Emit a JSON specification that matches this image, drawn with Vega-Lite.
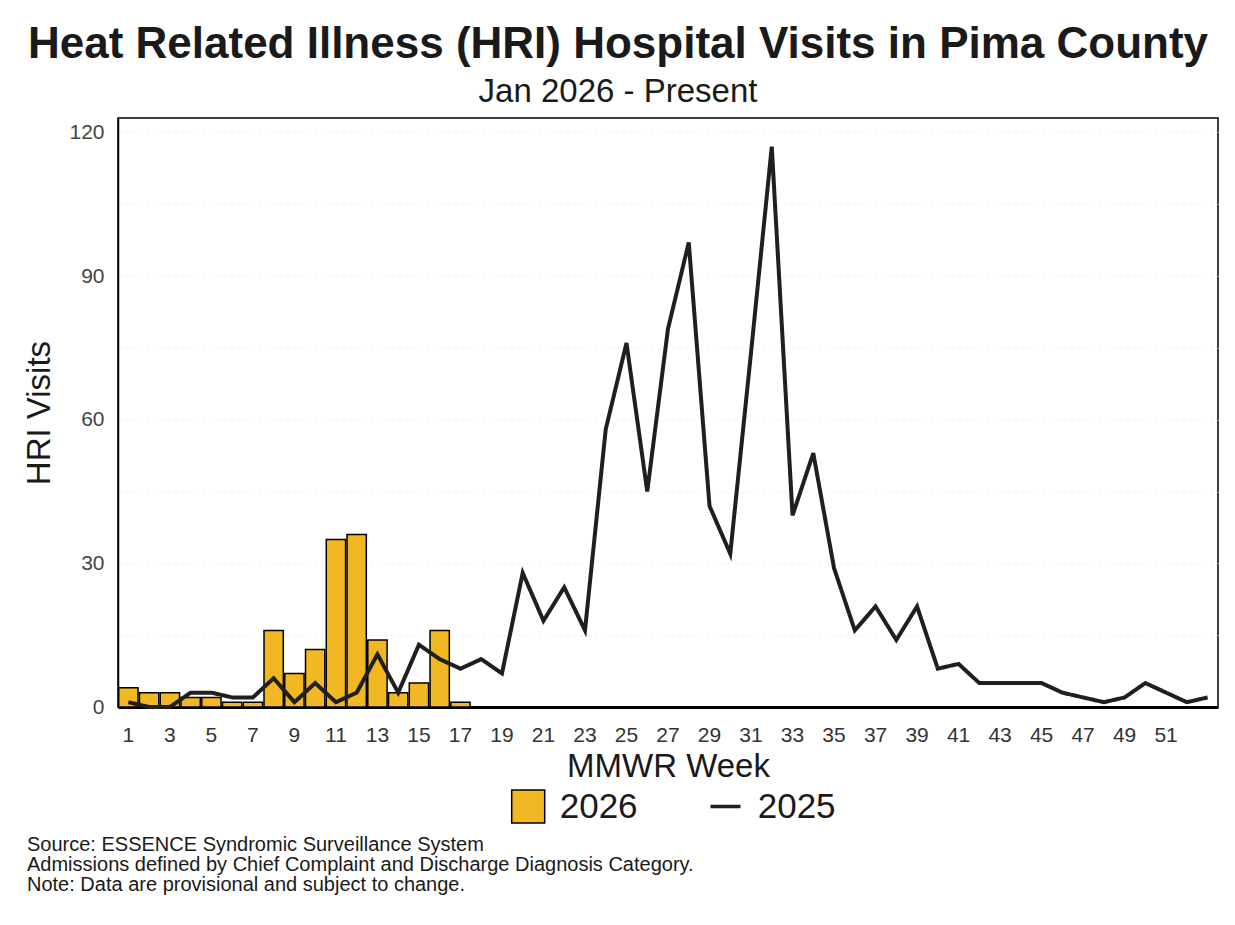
{
  "$schema": "https://vega.github.io/schema/vega-lite/v6.json",
  "width": 1100,
  "height": 589,
  "autosize": {"type": "none"},
  "padding": {"left": 118, "top": 118, "right": 17, "bottom": 218},
  "background": "white",
  "title": {
    "text": "Heat Related Illness (HRI) Hospital Visits in Pima County",
    "subtitle": "Jan 2026 - Present",
    "anchor": "middle",
    "frame": "group",
    "dx": -50,
    "offset": 9,
    "font": "Liberation Sans",
    "fontSize": 44,
    "fontWeight": "bold",
    "color": "#1a1a1a",
    "subtitleFont": "Liberation Sans",
    "subtitleFontSize": 33,
    "subtitleColor": "#1a1a1a",
    "subtitlePadding": 9
  },
  "config": {
    "view": {"stroke": "black", "strokeWidth": 1.5},
    "font": "Liberation Sans"
  },
  "data": {
    "values": [
      {"week": 1, "v2026": 4, "v2025": 1},
      {"week": 2, "v2026": 3, "v2025": 0},
      {"week": 3, "v2026": 3, "v2025": 0},
      {"week": 4, "v2026": 2, "v2025": 3},
      {"week": 5, "v2026": 2, "v2025": 3},
      {"week": 6, "v2026": 1, "v2025": 2},
      {"week": 7, "v2026": 1, "v2025": 2},
      {"week": 8, "v2026": 16, "v2025": 6},
      {"week": 9, "v2026": 7, "v2025": 1},
      {"week": 10, "v2026": 12, "v2025": 5},
      {"week": 11, "v2026": 35, "v2025": 1},
      {"week": 12, "v2026": 36, "v2025": 3},
      {"week": 13, "v2026": 14, "v2025": 11},
      {"week": 14, "v2026": 3, "v2025": 3},
      {"week": 15, "v2026": 5, "v2025": 13},
      {"week": 16, "v2026": 16, "v2025": 10},
      {"week": 17, "v2026": 1, "v2025": 8},
      {"week": 18, "v2026": null, "v2025": 10},
      {"week": 19, "v2026": null, "v2025": 7},
      {"week": 20, "v2026": null, "v2025": 28},
      {"week": 21, "v2026": null, "v2025": 18},
      {"week": 22, "v2026": null, "v2025": 25},
      {"week": 23, "v2026": null, "v2025": 16},
      {"week": 24, "v2026": null, "v2025": 58},
      {"week": 25, "v2026": null, "v2025": 76},
      {"week": 26, "v2026": null, "v2025": 45},
      {"week": 27, "v2026": null, "v2025": 79},
      {"week": 28, "v2026": null, "v2025": 97},
      {"week": 29, "v2026": null, "v2025": 42},
      {"week": 30, "v2026": null, "v2025": 32},
      {"week": 31, "v2026": null, "v2025": 74},
      {"week": 32, "v2026": null, "v2025": 117},
      {"week": 33, "v2026": null, "v2025": 40},
      {"week": 34, "v2026": null, "v2025": 53},
      {"week": 35, "v2026": null, "v2025": 29},
      {"week": 36, "v2026": null, "v2025": 16},
      {"week": 37, "v2026": null, "v2025": 21},
      {"week": 38, "v2026": null, "v2025": 14},
      {"week": 39, "v2026": null, "v2025": 21},
      {"week": 40, "v2026": null, "v2025": 8},
      {"week": 41, "v2026": null, "v2025": 9},
      {"week": 42, "v2026": null, "v2025": 5},
      {"week": 43, "v2026": null, "v2025": 5},
      {"week": 44, "v2026": null, "v2025": 5},
      {"week": 45, "v2026": null, "v2025": 5},
      {"week": 46, "v2026": null, "v2025": 3},
      {"week": 47, "v2026": null, "v2025": 2},
      {"week": 48, "v2026": null, "v2025": 1},
      {"week": 49, "v2026": null, "v2025": 2},
      {"week": 50, "v2026": null, "v2025": 5},
      {"week": 51, "v2026": null, "v2025": 3},
      {"week": 52, "v2026": null, "v2025": 1},
      {"week": 53, "v2026": null, "v2025": 2}
    ]
  },
  "encoding": {
    "x": {
      "field": "week",
      "type": "ordinal",
      "scale": {"type": "band", "paddingInner": 0.07, "paddingOuter": 0.035},
      "axis": {
        "values": [1,3,5,7,9,11,13,15,17,19,21,23,25,27,29,31,33,35,37,39,41,43,45,47,49,51],
        "labelAngle": 0,
        "ticks": false,
        "domainColor": "black",
        "domainWidth": 3,
        "labelFontSize": 21,
        "labelColor": "#333",
        "labelPadding": 17,
        "title": "MMWR Week",
        "titleFontSize": 33,
        "titleFontWeight": "normal",
        "titleColor": "#1a1a1a",
        "titlePadding": 5
      }
    }
  },
  "layer": [
    {
      "mark": {"type": "bar", "stroke": "black", "strokeWidth": 1.5},
      "encoding": {
        "y": {
          "field": "v2026",
          "type": "quantitative",
          "scale": {"domain": [0, 123], "nice": false},
          "axis": {
            "values": [0,15,30,45,60,75,90,105,120],
            "labelExpr": "datum.value % 30 == 0 ? datum.label : ''",
            "ticks": false,
            "domainColor": "black",
            "domainWidth": 1.5,
            "grid": true,
            "gridColor": "#f0f0f0",
            "gridDash": [3, 4],
            "labelFontSize": 21,
            "labelColor": "#444",
            "labelPadding": 14,
            "title": "HRI Visits",
            "titleFontSize": 33,
            "titleFontWeight": "normal",
            "titleColor": "#1a1a1a",
            "titlePadding": 12
          }
        },
        "fill": {
          "datum": "2026",
          "type": "nominal",
          "scale": {"domain": ["2026"], "range": ["#f2b824"]},
          "legend": {
            "orient": "none",
            "legendX": 392.7,
            "legendY": 671,
            "title": null,
            "direction": "horizontal",
            "symbolType": "square",
            "symbolSize": 1089,
            "symbolStrokeColor": "black",
            "symbolStrokeWidth": 1.5,
            "labelFontSize": 35,
            "labelColor": "#1a1a1a",
            "labelOffset": 14,
            "padding": 0
          }
        }
      }
    },
    {
      "mark": {"type": "line", "strokeWidth": 4, "strokeJoin": "miter"},
      "encoding": {
        "y": {"field": "v2025", "type": "quantitative"},
        "stroke": {
          "datum": "2025",
          "type": "nominal",
          "scale": {"domain": ["2025"], "range": ["#1f1f1f"]},
          "legend": {
            "orient": "none",
            "legendX": 590,
            "legendY": 671,
            "title": null,
            "direction": "horizontal",
            "symbolType": "stroke",
            "symbolSize": 900,
            "symbolStrokeWidth": 3.5,
            "labelFontSize": 35,
            "labelColor": "#1a1a1a",
            "labelOffset": 14.7,
            "padding": 0
          }
        },
        "strokeDash": {
          "datum": "note",
          "type": "nominal",
          "scale": {"domain": ["note"], "range": [[1, 0]]},
          "legend": {
            "orient": "none",
            "legendX": -91,
            "legendY": 717,
            "title": [
              "Source: ESSENCE Syndromic Surveillance System",
              "Admissions defined by Chief Complaint and Discharge Diagnosis Category.",
              "Note: Data are provisional and subject to change."
            ],
            "titleFontSize": 20,
            "titleFontWeight": "normal",
            "titleColor": "#1a1a1a",
            "titleLineHeight": 20,
            "titleLimit": 1000,
            "titleBaseline": "top",
            "labelExpr": "''",
            "symbolSize": 0,
            "symbolOpacity": 0,
            "symbolStrokeWidth": 0,
            "padding": 0
          }
        }
      }
    }
  ]
}
